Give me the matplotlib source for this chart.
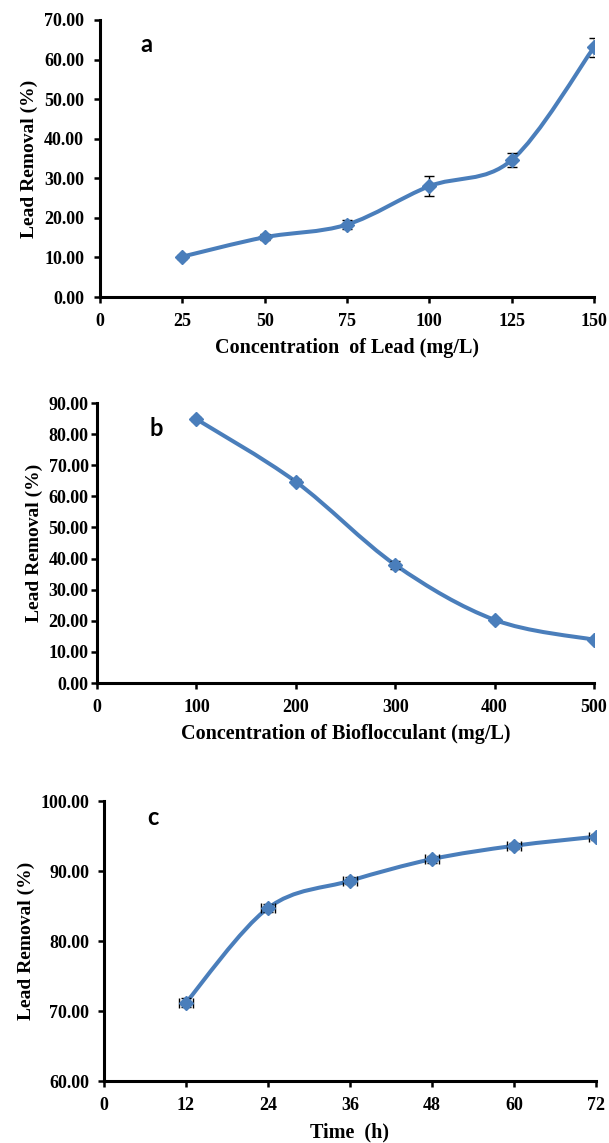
import numpy as np
import matplotlib
matplotlib.use("Agg")
import matplotlib.pyplot as plt
from matplotlib.path import Path
from matplotlib.patches import PathPatch
from matplotlib.ticker import FormatStrFormatter

# panel a
lead_conc = [25, 50, 75, 100, 125, 150]
removal_a = [10.2, 15.1, 18.3, 28.0, 34.6, 63.1]
err_a = [0.5, 0.8, 1.1, 2.6, 1.7, 2.4]

# panel b
floc_conc = [100, 200, 300, 400, 500]
removal_b = [84.8, 64.7, 38.0, 20.3, 13.9]
err_b = [0.6, 0.8, 1.2, 0.7, 0.5]

# panel c
time_h = [12, 24, 36, 48, 60, 72]
removal_c = [71.2, 84.7, 88.6, 91.7, 93.6, 94.9]
err_c = [0.6, 0.6, 0.5, 0.5, 0.4, 0.4]
xerr_c = [1.0, 1.0, 1.0, 1.0, 1.0, 1.0]

blue = "#4A7EBB"
serif = "Liberation Serif"


def smooth_path(x, y, t=1/6):
    # excel style smoothed line as cubic bezier segments
    x = np.asarray(x, float)
    y = np.asarray(y, float)
    n = len(x)
    verts = [(x[0], y[0])]
    codes = [Path.MOVETO]
    for i in range(n - 1):
        x0, y0 = (x[i - 1], y[i - 1]) if i > 0 else (x[i], y[i])
        x3, y3 = (x[i + 2], y[i + 2]) if i + 2 < n else (x[i + 1], y[i + 1])
        c1 = (x[i] + (x[i + 1] - x0) * t, y[i] + (y[i + 1] - y0) * t)
        c2 = (x[i + 1] - (x3 - x[i]) * t, y[i + 1] - (y3 - y[i]) * t)
        verts += [c1, c2, (x[i + 1], y[i + 1])]
        codes += [Path.CURVE4] * 3
    return Path(verts, codes)


def panel(ax, x, y, yerr, xerr, xlim, xticks, ylim, yticks, xlabel, letter, lpos, ypad):
    ax.add_patch(PathPatch(smooth_path(x, y), fill=False, edgecolor=blue,
                           lw=2.9, capstyle="round", zorder=2))
    ax.errorbar(x, y, yerr=yerr, xerr=xerr, fmt="none", ecolor="black",
                elinewidth=1.0, capsize=3.5, capthick=1.0, zorder=3)
    ax.plot(x, y, linestyle="none", marker="D", markersize=7.5,
            color=blue, zorder=4)
    ax.set_xlim(*xlim)
    ax.set_ylim(*ylim)
    ax.set_xticks(xticks)
    ax.set_yticks(yticks)
    ax.yaxis.set_major_formatter(FormatStrFormatter("%.2f"))
    for s in ["top", "right"]:
        ax.spines[s].set_visible(False)
    for s in ["left", "bottom"]:
        ax.spines[s].set_linewidth(2.2)
    ax.tick_params(width=1.8, length=4.5, direction="out")
    ax.tick_params(axis="x", pad=7)
    ax.tick_params(axis="y", pad=ypad)
    for lab in ax.get_xticklabels() + ax.get_yticklabels():
        lab.set_fontfamily(serif)
        lab.set_fontweight("bold")
        lab.set_fontsize(13)
    ax.set_xlabel(xlabel, family=serif, weight="bold", fontsize=14.5, labelpad=6)
    ax.set_ylabel("Lead Removal (%)", family=serif, weight="bold", fontsize=14, labelpad=4)
    ax.text(lpos[0], lpos[1], letter, transform=ax.transAxes, family="Lato",
            weight="bold", fontsize=17, ha="center", va="center")
    ax.patch.set_alpha(0)


fig = plt.figure(figsize=(6.09, 11.43), dpi=100)
W, H = 609, 1143


def add_ax(left, top, right, bottom):
    return fig.add_axes([left / W, 1 - bottom / H, (right - left) / W, (bottom - top) / H])


ax_a = add_ax(100, 20, 594, 297)
panel(ax_a, lead_conc, removal_a, err_a, None, (0, 150), [0, 25, 50, 75, 100, 125, 150],
      (0, 70), np.arange(0, 71, 10), "Concentration  of Lead (mg/L)", "a",
      (0.093, 0.91), 7)

ax_b = add_ax(97, 403, 594, 683)
panel(ax_b, floc_conc, removal_b, err_b, None, (0, 500), [0, 100, 200, 300, 400, 500],
      (0, 90), np.arange(0, 91, 10), "Concentration of Bioflocculant (mg/L)", "b",
      (0.12, 0.91), 1.5)

ax_c = add_ax(104, 801, 596, 1081)
panel(ax_c, time_h, removal_c, err_c, xerr_c, (0, 72), [0, 12, 24, 36, 48, 60, 72],
      (60, 100), np.arange(60, 101, 10), "Time  (h)", "c",
      (0.10, 0.94), 6)

fig.savefig("out.png", dpi=100)
